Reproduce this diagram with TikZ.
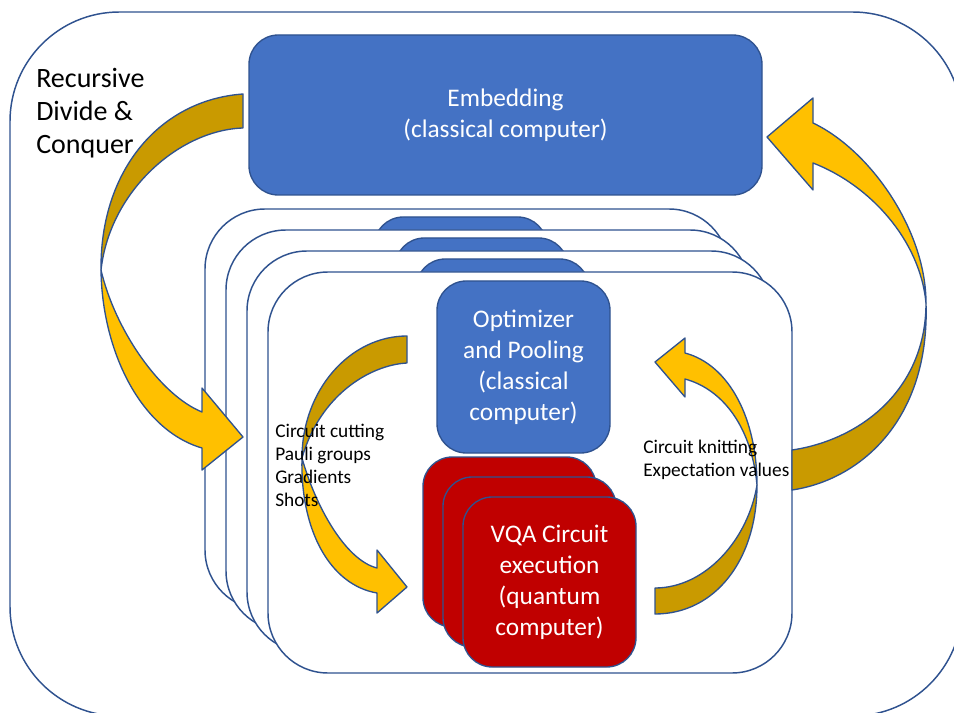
\documentclass[tikz,border=0pt]{standalone}
\usepackage{fontspec}
\setmainfont{Carlito}
\usetikzlibrary{positioning}
\definecolor{boxblue}{HTML}{4472C4}
\definecolor{lineblue}{HTML}{2F528F}
\definecolor{qred}{HTML}{C00000}
\definecolor{arrowgold}{HTML}{FFC000}
\definecolor{arrowdark}{HTML}{C99A00}
\tikzstyle{outerframe} = [rectangle, draw=lineblue, line width=1.1pt, fill=white, rounded corners=82pt, minimum width=714pt, minimum height=528pt]
\tikzstyle{frame} = [rectangle, draw=lineblue, line width=1.1pt, fill=white, rounded corners=45pt, minimum width=393pt, minimum height=300.75pt]
\tikzstyle{classic} = [rectangle, draw=lineblue, line width=1pt, fill=boxblue, rounded corners=22pt, text=white, align=center, font=\fontsize{19}{23.25}\selectfont]
\tikzstyle{optbox} = [classic, minimum width=129.75pt, minimum height=129pt]
\tikzstyle{quantum} = [classic, fill=qred, minimum width=129.75pt, minimum height=127.5pt]
\tikzstyle{band} = [draw=lineblue, line width=1pt, line join=round]
\tikzstyle{note} = [align=left, inner sep=0pt, anchor=west, font=\fontsize{14.5}{17.25}\selectfont]

\begin{document}
\begin{tikzpicture}[x=0.75pt, y=-0.75pt]
    \clip (0,0) rectangle (954,713);
    \node[outerframe] (outer) at (486,364) {};
    \node[classic, minimum width=384.75pt, minimum height=120pt] (embed) at (505.5,115) {Embedding\\(classical computer)};

    \foreach \i in {0,1,2}{
        \node[frame] (frame\i) at (467+21*\i, 409.5+21*\i) {};
        \node[optbox] (opt\i) at (460.5+21*\i, 303+21*\i) {};
    }
    \node[frame] (frame3) at (530,472.5) {};
    \node[optbox] (opt3) at (523.5,367) {Optimizer\\and Pooling\\(classical\\computer)};

    \foreach \i in {0,1}
        \node[quantum] (vqa\i) at (509.5+20*\i, 542+20*\i) {};
    \node[quantum] (vqa2) at (549.5,582) {VQA Circuit\\execution\\(quantum\\computer)};

    % inner loop arrows
    \filldraw[band, fill=arrowdark] (407,336) .. controls (350,336) and (302,390) .. (302,458) .. controls (320,395) and (370,365) .. (407,363) -- cycle;
    \filldraw[band, fill=arrowgold] (302,458) .. controls (300,530) and (330,585) .. (377,593) -- (377,613) -- (407,587) -- (377,550) -- (377,568) .. controls (345,560) and (315,505) .. (302,458) -- cycle;
    \filldraw[band, fill=arrowdark] (655,614) .. controls (715,614) and (757,560) .. (757,485) .. controls (748,540) and (705,588) .. (655,588) -- cycle;
    \filldraw[band, fill=arrowgold] (757,485) .. controls (757,420) and (730,365) .. (685,353) -- (685,338) -- (655,362) -- (685,397) -- (685,379) .. controls (725,390) and (752,430) .. (757,485) -- cycle;

    % outer loop arrows
    \filldraw[band, fill=arrowdark] (243,94) .. controls (160,100) and (100,170) .. (101,270) .. controls (110,190) and (180,130) .. (243,128) -- cycle;
    \filldraw[band, fill=arrowgold] (101,270) .. controls (102,350) and (140,430) .. (202,448) -- (202,470) -- (243,437) -- (202,388) -- (202,412) .. controls (160,395) and (115,330) .. (101,270) -- cycle;
    \filldraw[band, fill=arrowdark] (926,303) .. controls (930,420) and (860,480) .. (792,490) -- (792,450) .. controls (860,440) and (926,390) .. (926,303) -- cycle;
    \filldraw[band, fill=arrowgold] (926,303) .. controls (926,230) and (870,150) .. (813,123) -- (813,98) -- (767,137) -- (813,190) -- (813,163) .. controls (870,185) and (920,240) .. (926,303) -- cycle;

    \node[align=left, inner sep=0pt, anchor=west, font=\fontsize{21}{24.75}\selectfont] (recursive) at (36,113.5) {Recursive\\Divide \&\\Conquer};
    \node[note] (cutting) at (275,465) {Circuit cutting\\Pauli groups\\Gradients\\Shots};
    \node[note] (knitting) at (643,460) {Circuit knitting\\Expectation values};
\end{tikzpicture}
\end{document}
